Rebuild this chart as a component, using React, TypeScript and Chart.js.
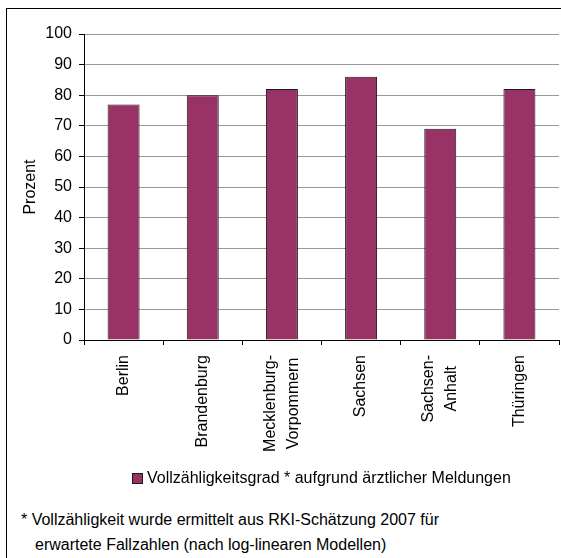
import React, { useEffect, useRef } from "react";
import { Chart, registerables } from "chart.js";

Chart.register(...registerables);

const categories: (string | string[])[] = [
  "Berlin",
  "Brandenburg",
  ["Mecklenburg-", "Vorpommern"],
  "Sachsen",
  ["Sachsen-", "Anhalt"],
  "Thüringen",
];
const values: number[] = [77, 80, 82, 86, 69, 82];
const seriesLabel = "Vollzähligkeitsgrad * aufgrund ärztlicher Meldungen";
const yTitle = "Prozent";
const yMin = 0;
const yMax = 100;
const yStep = 10;
const footnoteLines: string[] = [
  "* Vollzähligkeit wurde ermittelt aus RKI-Schätzung 2007 für",
  "erwartete Fallzahlen (nach log-linearen Modellen)",
];

const FONT = '"Liberation Sans", Arial, Helvetica, sans-serif';
const BAR_COLOR = "#993366";

const xLabelPlugin = {
  id: "rotatedXLabels",
  afterDraw(chart: any) {
    const s = chart.scales.x;
    const ctx = chart.ctx;
    const labels = chart.data.labels as (string | string[])[];
    ctx.save();
    ctx.font = `16px ${FONT}`;
    ctx.fillStyle = "#000";
    ctx.textAlign = "center";
    ctx.textBaseline = "middle";
    const lineGap = 23;
    const topY = s.top + 15;
    labels.forEach((lab, i) => {
      const lines = Array.isArray(lab) ? lab : [lab];
      const maxW = Math.max(...lines.map((l) => ctx.measureText(l).width));
      const px = s.getPixelForValue(i);
      lines.forEach((ln, j) => {
        const x = px + (j - (lines.length - 1) / 2) * lineGap;
        ctx.save();
        ctx.translate(x, topY + maxW / 2);
        ctx.rotate(-Math.PI / 2);
        ctx.fillText(ln, 0, 0);
        ctx.restore();
      });
    });
    ctx.restore();
  },
};

function BarChart() {
  const ref = useRef<HTMLCanvasElement | null>(null);
  useEffect(() => {
    if (!ref.current) return;
    const chart = new Chart(ref.current, {
      type: "bar",
      data: {
        labels: categories as any,
        datasets: [
          {
            label: seriesLabel,
            data: values,
            backgroundColor: BAR_COLOR,
            borderColor: "#1a1a1a",
            borderWidth: 1,
            categoryPercentage: 1,
            barPercentage: 0.404,
          },
        ],
      },
      options: {
        responsive: false,
        animation: false,
        devicePixelRatio: 1,
        layout: { padding: { left: 0, top: 34, right: 2, bottom: 0 } },
        plugins: {
          legend: { display: false },
          tooltip: { enabled: false },
        },
        scales: {
          x: {
            offset: true,
            grid: {
              offset: true,
              drawOnChartArea: false,
              drawTicks: true,
              tickLength: 5,
              tickColor: "#000",
            },
            border: { color: "#000", width: 1 },
            ticks: { display: false },
            afterFit: (s: any) => {
              s.height = 130;
            },
          },
          y: {
            min: yMin,
            max: yMax,
            ticks: {
              stepSize: yStep,
              color: "#000",
              padding: 7,
              font: { family: FONT, size: 16 },
            },
            grid: {
              color: "#999999",
              lineWidth: 1,
              tickLength: 5,
              tickColor: "#000",
            },
            border: { color: "#000", width: 1 },
            title: {
              display: true,
              text: yTitle,
              color: "#000",
              font: { family: FONT, size: 16 },
              padding: { top: 21, bottom: 0 },
            },
            afterFit: (s: any) => {
              s.width = 84;
            },
          },
        },
      },
      plugins: [xLabelPlugin],
    });
    return () => chart.destroy();
  }, []);
  return (
    <canvas
      ref={ref}
      width={561}
      height={470}
      style={{ position: "absolute", left: 0, top: 0, width: 561, height: 470 }}
    />
  );
}

export default function App() {
  const textStyle: React.CSSProperties = {
    position: "absolute",
    fontFamily: FONT,
    fontSize: 16,
    lineHeight: "20px",
    color: "#000",
    whiteSpace: "nowrap",
  };
  return (
    <div
      style={{
        position: "fixed",
        left: 0,
        top: 0,
        width: 561,
        height: 558,
        overflow: "hidden",
        background: "#fff",
      }}
    >
      <div
        style={{
          position: "absolute",
          left: 6,
          top: 8,
          width: 600,
          height: 600,
          borderLeft: "1px solid #000",
          borderTop: "1px solid #000",
          boxSizing: "border-box",
        }}
      />
      <BarChart />
      <div
        style={{
          position: "absolute",
          left: 132,
          top: 473,
          width: 9,
          height: 9,
          background: BAR_COLOR,
          border: "1px solid #1a1a1a",
        }}
      />
      <div style={{ ...textStyle, left: 147, top: 468 }}>{seriesLabel}</div>
      <div style={{ ...textStyle, left: 21, top: 510 }}>{footnoteLines[0]}</div>
      <div style={{ ...textStyle, left: 35, top: 535 }}>{footnoteLines[1]}</div>
    </div>
  );
}
